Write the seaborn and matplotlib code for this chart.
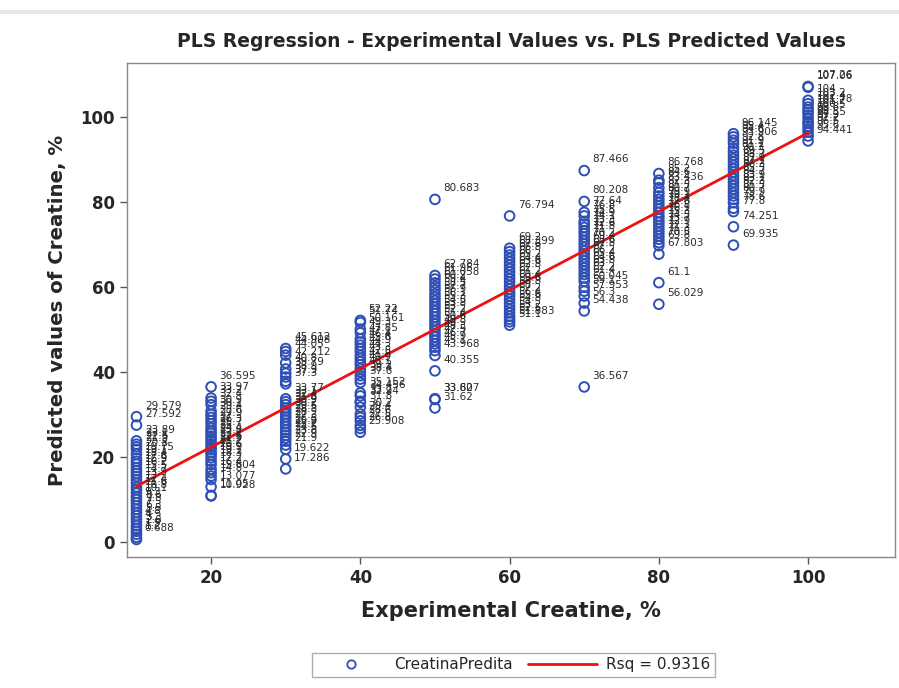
import matplotlib
matplotlib.use("Agg")
import matplotlib.pyplot as plt
import numpy as np
import pandas as pd
import seaborn as sns
from matplotlib.lines import Line2D

# experimental creatine levels (%)
levels = [10, 20, 30, 40, 50, 60, 70, 80, 90, 100]

# predicted values, one list per level
pred_10 = [29.579, 27.592, 23.89, 23.1, 22.5, 21.9, 20.8, 19.75, 19.1, 18.4, 17.6, 16.9,
           16.2, 15.5, 14.7, 13.9, 13.0, 12.4, 11.6, 10.8, 10.1, 9.3, 8.6, 7.8, 7.0, 6.3,
           5.5, 4.8, 4.0, 3.3, 2.6, 1.9, 1.2, 0.688]
pred_20 = [36.595, 33.97, 33.2, 32.4, 30.9, 30.1, 29.4, 28.6, 27.9, 27.0, 26.3, 25.7,
           25.0, 24.4, 23.8, 23.1, 22.5, 21.9, 21.2, 20.6, 19.9, 19.1, 18.3, 17.2, 16.4,
           15.604, 14.8, 13.077, 11.05, 10.928]
pred_30 = [45.612, 44.908, 44.05, 42.212, 40.8, 39.79, 38.9, 37.9, 37.3, 33.77, 33.1,
           32.4, 31.6, 30.9, 30.2, 29.5, 28.8, 28.0, 27.3, 26.5, 25.9, 25.2, 24.5, 23.8,
           22.9, 21.9, 19.622, 17.286]
pred_40 = [52.22, 51.74, 50.161, 49.3, 47.85, 47.1, 46.4, 45.6, 44.9, 44.0, 43.3, 42.5,
           41.8, 40.9, 40.1, 39.2, 38.4, 37.6, 35.152, 34.456, 33.2, 32.94, 31.8, 30.2,
           29.4, 28.6, 27.5, 26.8, 25.908]
pred_50 = [80.683, 62.784, 61.95, 61.058, 60.2, 59.4, 58.5, 57.7, 56.9, 56.1, 55.3, 54.5,
           53.8, 53.0, 52.2, 51.4, 50.6, 49.8, 49.0, 48.3, 47.5, 46.7, 45.9, 45.1, 43.968,
           40.355, 33.807, 33.62, 31.62]
pred_60 = [76.794, 69.2, 68.399, 67.6, 66.8, 66.0, 65.2, 64.4, 63.6, 62.8, 62.0, 61.2,
           60.4, 59.6, 58.8, 58.0, 57.2, 56.4, 55.6, 54.8, 54.0, 53.2, 52.5, 51.883, 51.1]
pred_70 = [87.466, 80.208, 77.64, 76.8, 75.5, 74.9, 74.1, 73.3, 72.6, 71.8, 71.0, 70.2,
           69.4, 68.6, 67.8, 67.0, 66.2, 65.4, 64.6, 63.8, 63.0, 62.2, 61.4, 60.045, 59.1,
           57.953, 56.3, 54.438, 36.567]
pred_80 = [86.768, 85.2, 84.6, 83.436, 82.3, 81.5, 80.7, 79.9, 79.1, 78.4, 77.6, 76.8,
           76.1, 75.3, 74.5, 73.7, 72.9, 72.1, 71.3, 70.5, 69.8, 67.803, 61.1, 56.029]
pred_90 = [96.145, 95.4, 94.6, 93.906, 92.8, 91.9, 91.1, 90.3, 89.5, 88.7, 87.9, 87.1,
           86.3, 85.5, 84.7, 83.9, 83.1, 82.3, 81.5, 80.7, 79.9, 78.6, 77.8, 74.251, 69.935]
pred_100 = [107.26, 107.06, 104.0, 103.2, 102.4, 101.78, 101.2, 100.5, 99.8, 99.0, 98.55,
            97.9, 97.2, 96.5, 95.6, 94.441]

rsq_label = "Rsq = 0.9316"

groups = [pred_10, pred_20, pred_30, pred_40, pred_50, pred_60, pred_70, pred_80,
          pred_90, pred_100]
rows = []
for lv, vals in zip(levels, groups):
    for v in vals:
        rows.append({"exp": lv, "pred": v})
df = pd.DataFrame(rows)

sns.set_style("white")
plt.rcParams["font.family"] = ["DejaVu Sans"]

fig = plt.figure(figsize=(8.99, 6.88), dpi=100)
ax = fig.add_axes([0.141, 0.19, 0.855, 0.718])

blue = "#2f4fb5"
sns.scatterplot(x="exp", y="pred", data=df, ax=ax, marker="o", s=48,
                facecolor="none", edgecolor=blue, linewidth=1.4, legend=False)
sns.regplot(x="exp", y="pred", data=df, ax=ax, scatter=False, ci=None,
            color="#ee1111", line_kws={"linewidth": 2})

for x, y in zip(df["exp"], df["pred"]):
    ax.annotate(f"{y:g}", (x, y), xytext=(6, 8), textcoords="offset points",
                ha="left", va="center", fontsize=7.5, color="#2a2a2a")

ax.set_xlim(8.7, 111.7)
ax.set_ylim(-3.5, 112.7)
ax.set_xticks([20, 40, 60, 80, 100])
ax.set_yticks([0, 20, 40, 60, 80, 100])
ax.tick_params(axis="both", which="major", direction="out", length=5, width=1,
               color="#555555", labelsize=12, bottom=True, left=True)
for lab in ax.get_xticklabels() + ax.get_yticklabels():
    lab.set_fontweight("bold")
for sp in ax.spines.values():
    sp.set_color("#888888")
    sp.set_linewidth(1)

ax.set_xlabel("Experimental Creatine, %", fontsize=15, fontweight="bold", labelpad=10)
ax.set_ylabel("Predicted values of Creatine, %", fontsize=14.2, fontweight="bold", labelpad=10)
ax.set_title("PLS Regression - Experimental Values vs. PLS Predicted Values",
             fontsize=13.5, fontweight="bold", pad=12)

handles = [
    Line2D([], [], marker="o", linestyle="none", markerfacecolor="none",
           markeredgecolor=blue, markersize=6, markeredgewidth=1.3, label="CreatinaPredita"),
    Line2D([], [], color="#ee1111", linewidth=2, label=rsq_label),
]
leg = fig.legend(handles=handles, loc="lower center", bbox_to_anchor=(0.571, 0.005),
                 ncol=2, frameon=True, fancybox=False, fontsize=11, handlelength=4.5,
                 handletextpad=0.6, columnspacing=1.0, borderpad=0.3)
leg.get_frame().set_edgecolor("#999999")
leg.get_frame().set_linewidth(1)

fig.add_artist(Line2D([0, 1], [0.983, 0.983], transform=fig.transFigure,
                      color="#e6e6e6", linewidth=3))

fig.savefig("out.png", dpi=100)
